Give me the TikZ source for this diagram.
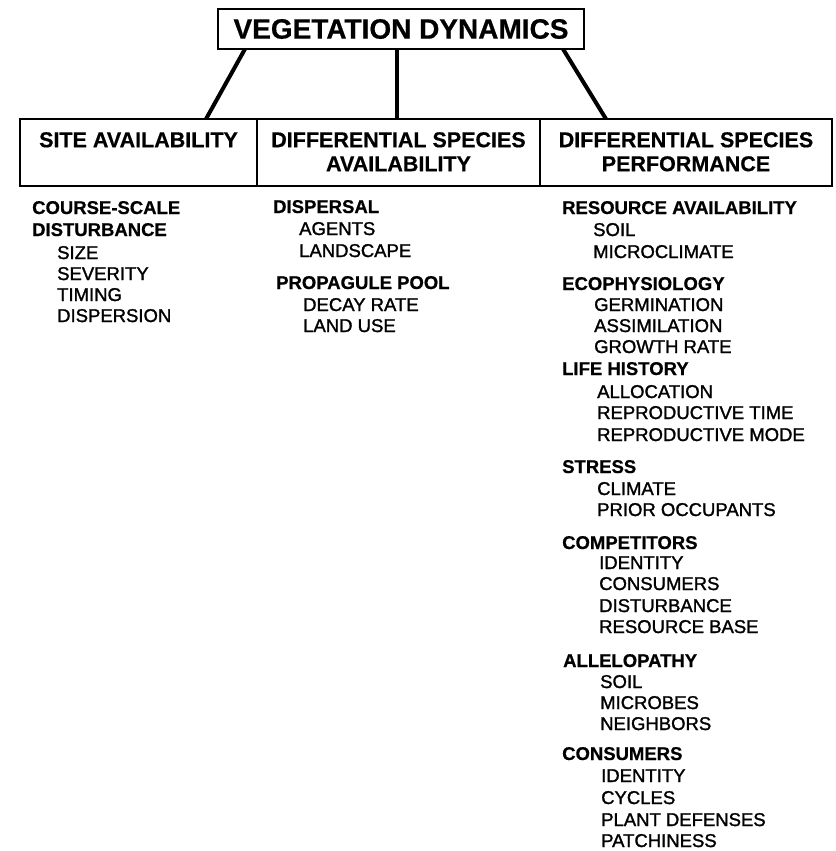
\documentclass[tikz,border=0pt]{standalone}
\usepackage{fontspec}
\setmainfont{Liberation Sans}
\usetikzlibrary{calc, positioning}

\newcommand{\vegtitlefont}{\fontsize{28}{30}\selectfont\bfseries\addfontfeature{FakeBold=0.6}}
\newcommand{\vegheadfont}{\fontsize{21.5}{24}\selectfont\bfseries\addfontfeature{FakeBold=0.6}}
\newcommand{\veggrpfont}{\fontsize{18.5}{20}\selectfont\bfseries\addfontfeature{FakeBold=0.6}}
\newcommand{\vegitmfont}{\fontsize{18.5}{20}\selectfont\addfontfeature{FakeBold=1.4}}

\begin{document}
\begin{tikzpicture}[
   x = 1pt, y = -1pt,
   title/.style = {draw, line width=2pt, font=\vegtitlefont, inner sep=0pt, outer sep=0pt,
                   minimum width=366pt, minimum height=40pt},
   cell/.style  = {draw, line width=2pt, inner sep=0pt, outer sep=0pt,
                   minimum height=67pt, anchor=north west},
   head/.style  = {font=\vegheadfont, align=center, inner sep=0pt, anchor=north},
   grp/.style   = {font=\veggrpfont, inner sep=0pt, anchor=base west},
   itm/.style   = {font=\vegitmfont, inner sep=0pt, anchor=base west},
   link/.style  = {line width=4pt}]
   \useasboundingbox (0,0) rectangle (835,851);

   % top box
   \node[title] (veg) at (401,29) {VEGETATION DYNAMICS};

   % the three factor boxes
   \node[cell, minimum width=237pt] (site) at (20,119) {};
   \node[cell, minimum width=283pt, right=0pt of site] (avail) {};
   \node[cell, minimum width=292pt, right=0pt of avail] (perf) {};

   \node[head, below=13pt of site.north]  (siteT)  {SITE AVAILABILITY};
   \node[head, below=13pt of avail.north] (availT) {DIFFERENTIAL SPECIES\\AVAILABILITY};
   \node[head, below=13pt of perf.north]  (perfT)  {DIFFERENTIAL SPECIES\\PERFORMANCE};

   \draw[link] ([xshift=27pt]veg.south west) -- ([xshift=186pt]site.north west);
   \draw[link] ($(veg.south)+(-4,0)$) -- ($(veg.south |- avail.north)+(-4,0)$);
   \draw[link] ([xshift=-21pt]veg.south east) -- ([xshift=66pt]perf.north west);

   % site availability
   \node[grp] (cs)   at (32,214) {COURSE-SCALE};
   \node[grp] (dist) at (32,236) {DISTURBANCE};
   \node[itm] (size) at (57,259) {SIZE};
   \node[itm] (sev)  at (57,280) {SEVERITY};
   \node[itm] (tim)  at (57,301) {TIMING};
   \node[itm] (disp) at (57,322) {DISPERSION};

   % species availability
   \node[grp] (dsp)  at (273,213) {DISPERSAL};
   \node[itm] (agt)  at (299,235) {AGENTS};
   \node[itm] (land) at (299,257) {LANDSCAPE};
   \node[grp] (pool) at (276,289) {PROPAGULE POOL};
   \node[itm] (dec)  at (303,311) {DECAY RATE};
   \node[itm] (use)  at (303,332) {LAND USE};

   % species performance
   \node[grp] (res)   at (562,214) {RESOURCE AVAILABILITY};
   \node[itm] (soil)  at (593,236) {SOIL};
   \node[itm] (micro) at (593,258) {MICROCLIMATE};

   \node[grp] (eco)   at (562,290) {ECOPHYSIOLOGY};
   \node[itm] (germ)  at (594,311) {GERMINATION};
   \node[itm] (assim) at (594,332) {ASSIMILATION};
   \node[itm] (grow)  at (594,353) {GROWTH RATE};

   \node[grp] (life)  at (562,375) {LIFE HISTORY};
   \node[itm] (alloc) at (597,398) {ALLOCATION};
   \node[itm] (rtime) at (597,419) {REPRODUCTIVE TIME};
   \node[itm] (rmode) at (597,441) {REPRODUCTIVE MODE};

   \node[grp] (str)   at (562,473) {STRESS};
   \node[itm] (clim)  at (597,495) {CLIMATE};
   \node[itm] (prior) at (597,516) {PRIOR OCCUPANTS};

   \node[grp] (comp)  at (562,549) {COMPETITORS};
   \node[itm] (id1)   at (599,569) {IDENTITY};
   \node[itm] (cons1) at (599,590) {CONSUMERS};
   \node[itm] (dist2) at (599,612) {DISTURBANCE};
   \node[itm] (rbase) at (599,633) {RESOURCE BASE};

   \node[grp] (allel) at (563,667) {ALLELOPATHY};
   \node[itm] (soil2) at (600,688) {SOIL};
   \node[itm] (mic)   at (600,709) {MICROBES};
   \node[itm] (nbr)   at (600,730) {NEIGHBORS};

   \node[grp] (cons)  at (562,760) {CONSUMERS};
   \node[itm] (id2)   at (601,782) {IDENTITY};
   \node[itm] (cyc)   at (601,804) {CYCLES};
   \node[itm] (pdef)  at (601,826) {PLANT DEFENSES};
   \node[itm] (patch) at (601,847) {PATCHINESS};
\end{tikzpicture}
\end{document}
